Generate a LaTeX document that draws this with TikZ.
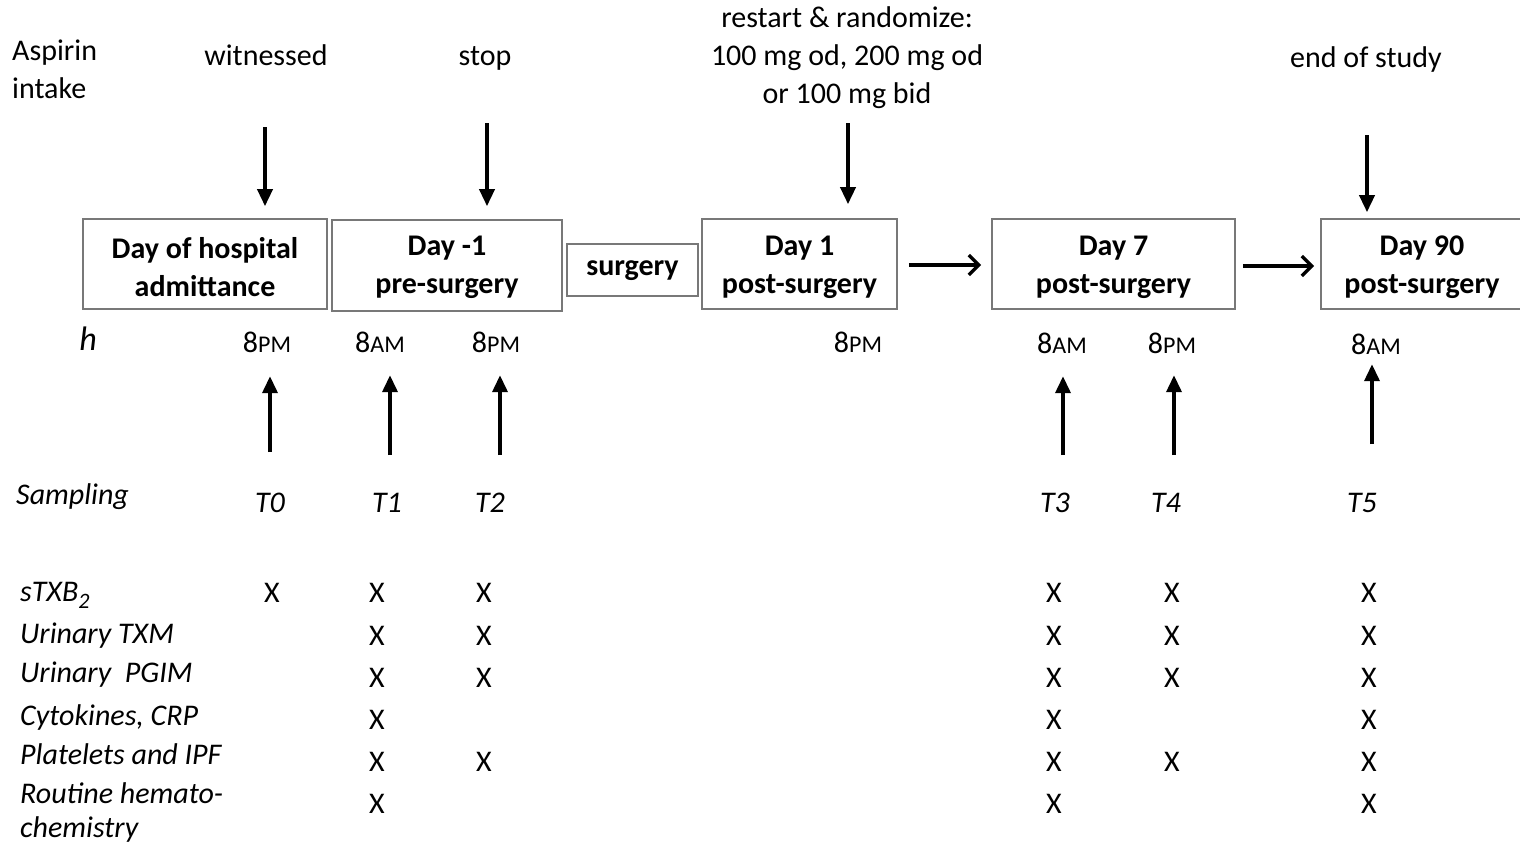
\documentclass[tikz,border=0pt]{standalone}
\usepackage{fontspec}
\setmainfont{Carlito}
\usetikzlibrary{arrows.meta}
\definecolor{boxgray}{RGB}{120,120,120}
\tikzset{
  lbl/.style={inner sep=0pt, text height=20pt, text depth=6pt, font=\fontsize{30}{38}\selectfont},
  ilbl/.style={lbl, font=\fontsize{30}{38}\selectfont\itshape},
  daybox/.style={draw=boxgray, line width=1.6pt, inner sep=0pt},
  boxtxt/.style={inner sep=0pt, align=center, font=\fontsize{30}{38}\selectfont\bfseries},
  arrowv/.style={line width=3.6pt, -{Triangle[length=17pt,width=15pt]}},
  arrowh/.style={line width=3.4pt, -{Straight Barb[length=10pt,width=20pt,line width=3.4pt]}},
}
\newcommand{\smc}[1]{{\fontsize{24}{24}\selectfont #1}}
\begin{document}
\begin{tikzpicture}[x=1pt,y=-1pt]
\useasboundingbox (0,0) rectangle (1520,846);
\fill[white] (0,0) rectangle (1520,846);

% top labels
\node[lbl, anchor=west, align=left, text height=, text depth=] (asp) at (12,69) {Aspirin\\intake};
\node[lbl] (wit) at (266,58) {witnessed};
\node[lbl] (stp) at (485,58) {stop};
\node[lbl, align=center, text height=, text depth=] (rst) at (847,58) {restart \& randomize:\\100 mg od, 200 mg od\\or 100 mg bid};
\node[lbl] (eos) at (1366,60) {end of study};

% day boxes
\node[daybox, minimum width=244pt, minimum height=90pt] (b0) at (205,264) {};
\node[daybox, minimum width=230pt, minimum height=91pt] (b1) at (447,265.5) {};
\node[daybox, minimum width=131pt, minimum height=52pt] (bs) at (632.5,270) {};
\node[daybox, minimum width=195pt, minimum height=90pt] (b2) at (799.5,264) {};
\node[daybox, minimum width=243pt, minimum height=90pt] (b3) at (1113.5,264) {};
\node[daybox, minimum width=202pt, minimum height=90pt] (b4) at (1422,264) {};
\node[boxtxt] (b0t) at ([yshift=-3pt]b0.center) {Day of hospital\\admittance};
\node[boxtxt] (b1t) at ([yshift=-2pt]b1.center) {Day -1\\pre-surgery};
\node[boxtxt] (bst) at ([yshift=-1pt]bs.center) {surgery};
\node[boxtxt] (b2t) at ([yshift=-3pt]b2.center) {Day 1\\post-surgery};
\node[boxtxt] (b3t) at ([yshift=-3pt]b3.center) {Day 7\\post-surgery};
\node[boxtxt] (b4t) at ([yshift=-3pt]b4.center) {Day 90\\post-surgery};

% aspirin intake arrows
\coordinate (d0) at (265,127);
\coordinate (d1) at (487,123);
\coordinate (d2) at (848,123);
\coordinate (d3) at (1367,135);
\draw[arrowv, shorten >=12pt] (d0) -- (d0 |- b0.north);
\draw[arrowv, shorten >=13pt] (d1) -- (d1 |- b1.north);
\draw[arrowv, shorten >=14pt] (d2) -- (d2 |- b2.north);
\draw[arrowv, shorten >=6pt] (d3) -- (d3 |- b4.north);

% horizontal arrows
\draw[arrowh, shorten <=11pt, shorten >=10pt] (b2.east |- 0,265) -- (b3.west |- 0,265);
\draw[arrowh, shorten <=7pt, shorten >=6pt] (b3.east |- 0,266) -- (b4.west |- 0,266);

% hours
\node[ilbl, font=\fontsize{34}{38}\selectfont\itshape] (h) at (88,343) {h};
\node[lbl] (t0) at (267,345) {8\smc{PM}};
\node[lbl] (t1) at (380,345) {8\smc{AM}};
\node[lbl] (t2) at (496,345) {8\smc{PM}};
\node[lbl] (t2b) at (858,345) {8\smc{PM}};
\node[lbl] (t3) at (1062,346) {8\smc{AM}};
\node[lbl] (t4) at (1172,346) {8\smc{PM}};
\node[lbl] (t5) at (1376,347) {8\smc{AM}};

% sampling arrows
\coordinate (u0) at (270,452);
\coordinate (u1) at (390,455);
\coordinate (u2) at (500,455);
\coordinate (u3) at (1063,455);
\coordinate (u4) at (1174,455);
\coordinate (u5) at (1372,444);
\draw[arrowv, shorten >=18pt] (u0) -- (u0 |- t0.south);
\draw[arrowv, shorten >=17pt] (u1) -- (u1 |- t1.south);
\draw[arrowv, shorten >=17pt] (u2) -- (u2 |- t2.south);
\draw[arrowv, shorten >=17pt] (u3) -- (u3 |- t3.south);
\draw[arrowv, shorten >=16pt] (u4) -- (u4 |- t4.south);
\draw[arrowv, shorten >=4pt] (u5) -- (u5 |- t5.south);

% sampling labels
\node[ilbl, anchor=west] (smp) at (16,497) {Sampling};
\node[ilbl] (s0) at (270,505) {T0};
\node[ilbl] (s1) at (387,505) {T1};
\node[ilbl] (s2) at (490,505) {T2};
\node[ilbl] (s3) at (1055,505) {T3};
\node[ilbl] (s4) at (1166,505) {T4};
\node[ilbl] (s5) at (1362,505) {T5};

% row labels
\node[ilbl, anchor=west] (r1) at (20,594) {sTXB\raisebox{-7pt}{\fontsize{22}{22}\selectfont 2}};
\node[ilbl, anchor=west] (r2) at (20,636) {Urinary TXM};
\node[ilbl, anchor=west] (r3) at (20,675) {Urinary\ \ PGIM};
\node[ilbl, anchor=west] (r4) at (20,718) {Cytokines, CRP};
\node[ilbl, anchor=west] (r5) at (20,757) {Platelets and IPF};
\node[ilbl, anchor=west] (r6) at (20,796) {Routine hemato-};
\node[ilbl, anchor=west] (r6b) at (20,830) {chemistry};

% X marks
\foreach \r/\y/\cols in {1/595/{272,377,484,1054,1172,1369},
                         2/638/{377,484,1054,1172,1369},
                         3/680/{377,484,1054,1172,1369},
                         4/722/{377,1054,1369},
                         5/764/{377,484,1054,1172,1369},
                         6/806/{377,1054,1369}}{
  \foreach \c in \cols {
    \node[lbl] (x-\r-\c) at (\c,\y) {X};
  }
}
\end{tikzpicture}
\end{document}
